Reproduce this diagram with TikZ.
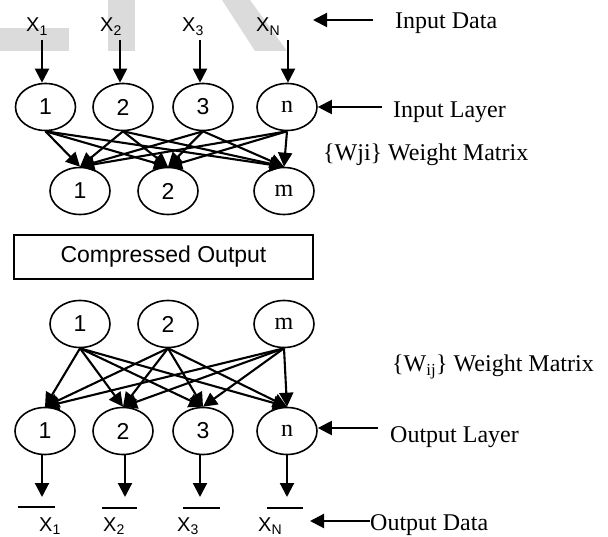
\documentclass[tikz,border=0pt]{standalone}
\usepackage{fontspec}
\setmainfont{Liberation Serif}
\setsansfont{Liberation Sans}
\usetikzlibrary{arrows.meta,shapes.geometric}

\begin{document}
\begin{tikzpicture}[x=1pt,y=-1pt,
  neuron/.style={ellipse,draw,line width=1.6pt,minimum width=60pt,minimum height=47pt,inner sep=0pt},
  numtxt/.style={font=\sffamily\fontsize{23}{25}\selectfont},
  lettxt/.style={font=\fontsize{24}{26}\selectfont},
  link/.style={line width=2.1pt,-{Triangle[length=14pt,width=14pt]}},
  caption/.style={anchor=base west,inner sep=0pt,font=\fontsize{24}{28}\selectfont},
  datalbl/.style={anchor=base west,inner sep=0pt,font=\sffamily\fontsize{20}{22}\selectfont},
  wmark/.style={fill=black!14},
  bar/.style={line width=1.7pt}
]
\useasboundingbox (0,0) rectangle (608,537);

% faint background marks
\fill[wmark] (0,28) rectangle (69,51);
\fill[wmark] (108,0) rectangle (135,51);
\fill[wmark] (222,0) -- (250,0) -- (287,51) -- (255,51) -- cycle;

% ---------- encoder ----------
\node[datalbl] (x1) at (26,32) {X\textsubscript{1}};
\node[datalbl] (x2) at (100,32) {X\textsubscript{2}};
\node[datalbl] (x3) at (182,32) {X\textsubscript{3}};
\node[datalbl] (xn) at (256,32) {X\textsubscript{N}};

\node[neuron,numtxt] (t1) at (45.5,107) {1};
\node[neuron,numtxt] (t2) at (123,107) {2};
\node[neuron,numtxt] (t3) at (203,107) {3};
\node[neuron,lettxt] (tn) at (287,107) {n};

\coordinate (s1) at (42,40);
\coordinate (s2) at (120,40);
\coordinate (s3) at (200,40);
\coordinate (sn) at (288,40);
\foreach \s/\t in {s1/t1,s2/t2,s3/t3,sn/tn}
  \draw[link] (\s) -- (\s |- \t.north);

\node[neuron,numtxt] (h1) at (80,191) {1};
\node[neuron,numtxt] (h2) at (168,191) {2};
\node[neuron,lettxt] (hm) at (284,191) {m};

\foreach \a in {t1,t2,t3,tn}
  \foreach \b in {h1,h2,hm}
    \draw[link] (\a.south) -- (\b.north);

\node[draw,line width=1.3pt,minimum width=299pt,minimum height=44pt,inner sep=0pt,
      font=\sffamily\fontsize{23}{25}\selectfont] (code) at (163.5,257) {Compressed Output};

% ---------- decoder ----------
\node[neuron,numtxt] (g1) at (80,324) {1};
\node[neuron,numtxt] (g2) at (168,324) {2};
\node[neuron,lettxt] (gm) at (284,324) {m};

\node[neuron,numtxt] (o1) at (45,431) {1};
\node[neuron,numtxt] (o2) at (123,431) {2};
\node[neuron,numtxt] (o3) at (203,431) {3};
\node[neuron,lettxt] (on) at (287,431) {n};

\foreach \a in {g1,g2,gm}
  \foreach \b in {o1,o2,o3,on}
    \draw[link] (\a.south) -- (\b.north);

\coordinate (e1) at (42,497);
\coordinate (e2) at (125,497);
\coordinate (e3) at (200,497);
\coordinate (en) at (287,497);
\foreach \o/\e in {o1/e1,o2/e2,o3/e3,on/en}
  \draw[link] (\e |- \o.south) -- (\e);

\draw[bar] (18,507) -- (55,507);
\draw[bar] (102,508) -- (137,508);
\draw[bar] (183,508) -- (220,508);
\draw[bar] (267,508) -- (303,508);

\node[datalbl] (y1) at (39,531) {X\textsubscript{1}};
\node[datalbl] (y2) at (103,531) {X\textsubscript{2}};
\node[datalbl] (y3) at (177,531) {X\textsubscript{3}};
\node[datalbl] (yn) at (258,531) {X\textsubscript{N}};

% ---------- captions ----------
\node[caption] (indata) at (395,29) {Input Data};
\coordinate (idtail) at (373,20);
\coordinate (idtip) at (313,20);
\draw[link] (idtail) -- (idtip);

\node[caption] (inlayer) at (393,118) {Input Layer};
\coordinate (iltail) at (382,107);
\draw[link] (iltail) -- (tn.east);

\node[caption] (wji) at (323,161) {\{Wji\} Weight Matrix};

\node[caption] (wij) at (392,372) {\{W\textsubscript{ij}\} Weight Matrix};

\node[caption] (outlayer) at (390,442) {Output Layer};
\coordinate (oltail) at (378,428);
\draw[link] (oltail) -- (oltail -| on.east);

\node[caption] (outdata) at (370,530) {Output Data};
\coordinate (odtail) at (370,521);
\coordinate (odtip) at (310,521);
\draw[link] (odtail) -- (odtip);
\end{tikzpicture}
\end{document}
